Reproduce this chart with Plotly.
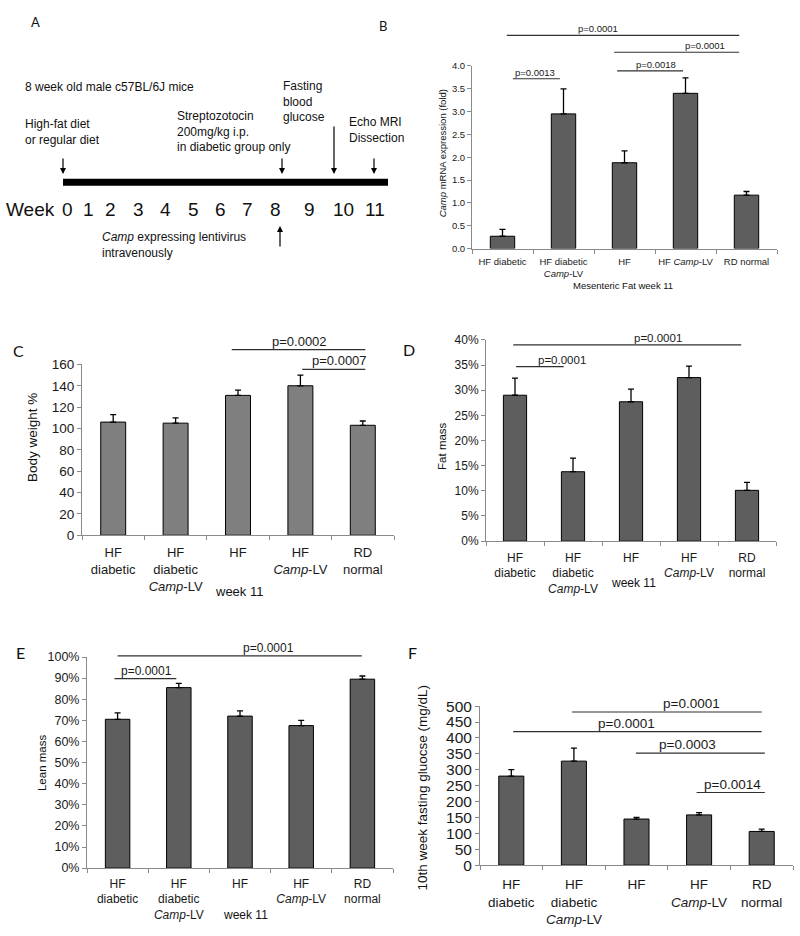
import plotly.graph_objects as go

W, H = 800, 936
FONT = "Liberation Sans, Arial, sans-serif"
LETTER_FONT = "Lato, Open Sans, sans-serif"

# ---------------- data ----------------
groups_inline = ["HF diabetic", "HF diabetic<br><i>Camp</i>-LV", "HF",
                 "HF <i>Camp</i>-LV", "RD normal"]
groups_stacked = ["HF<br>diabetic", "HF<br>diabetic<br><i>Camp</i>-LV", "HF",
                  "HF<br><i>Camp</i>-LV", "RD<br>normal"]

camp_mrna = [0.27, 2.95, 1.88, 3.40, 1.17]
camp_mrna_err = [0.15, 0.55, 0.26, 0.34, 0.08]

body_weight = [106, 105, 131, 140, 103]
body_weight_err = [7, 5, 5, 10, 4]

fat_mass = [0.290, 0.138, 0.277, 0.325, 0.101]
fat_mass_err = [0.034, 0.027, 0.025, 0.023, 0.016]

lean_mass = [0.705, 0.855, 0.720, 0.675, 0.895]
lean_mass_err = [0.030, 0.020, 0.025, 0.025, 0.015]

glucose = [280, 327, 145, 158, 106]
glucose_err = [20, 41, 5, 7, 7]

week_labels = [str(w) for w in range(12)]

# significance comparisons: (from, to, level, label centre, label)
sig_B = [(0.07, 3.88, 4.67, 1.57, "p=0.0001"),
         (1.83, 3.88, 4.30, 3.32, "p=0.0001"),
         (1.88, 2.96, 3.89, 2.52, "p=0.0018"),
         (0.17, 0.94, 3.72, 0.53, "p=0.0013")]
sig_C = [(1.90, 4.04, 173.8, 2.99, "p=0.0002"),
         (3.03, 4.04, 155.4, 3.63, "p=0.0007")]
sig_D = [(-0.03, 3.90, 0.390, 2.47, "p=0.0001"),
         (0.02, 0.84, 0.347, 0.81, "p=0.0001")]
sig_E = [(0.00, 3.99, 1.005, 2.47, "p=0.0001"),
         (-0.05, 0.96, 0.898, 0.47, "p=0.0001")]
sig_F = [(0.97, 4.00, 481.5, 2.88, "p=0.0001"),
         (0.03, 4.00, 419.8, 1.84, "p=0.0001"),
         (1.99, 4.05, 351.9, 2.82, "p=0.0003"),
         (2.96, 4.05, 228.4, 3.54, "p=0.0014")]

# ---------------- layout helpers ----------------
def px(x):
    return x / W


def py(y):
    return 1 - y / H


fig = go.Figure()

AX_COLOR = "#8a8a8a"
panels = [
    dict(n=2, v=camp_mrna, e=camp_mrna_err, ymax=4.0, dtick=0.5, fmt=".1f",
         labels=groups_inline, xd=(472, 777), yd=(58, 244), color="#5e5e5e",
         tf=9.5, xf=9.5, so=4, sig=sig_B, sf=9.5),
    dict(n=3, v=body_weight, e=body_weight_err, ymax=160, dtick=20, fmt="d",
         labels=groups_stacked, xd=(82, 394), yd=(362, 536), color="#7f7f7f",
         tf=13.5, xf=13, so=5, sig=sig_C, sf=13),
    dict(n=4, v=fat_mass, e=fat_mass_err, ymax=0.40, dtick=0.05, fmt=".0%",
         labels=groups_stacked, xd=(486, 776), yd=(337, 542), color="#5e5e5e",
         tf=12, xf=12, so=5, sig=sig_D, sf=11.5),
    dict(n=5, v=lean_mass, e=lean_mass_err, ymax=1.0, dtick=0.1, fmt=".0%",
         labels=groups_stacked, xd=(87, 393), yd=(660, 875), color="#5e5e5e",
         tf=12.5, xf=12, so=4, sig=sig_E, sf=12),
    dict(n=6, v=glucose, e=glucose_err, ymax=500, dtick=50, fmt="d",
         labels=groups_stacked, xd=(480, 793), yd=(710, 872), color="#5e5e5e",
         tf=15.5, xf=13.5, so=7, sig=sig_F, sf=13.5),
]

cats = list(range(5))
for p in panels:
    n = p["n"]
    fig.add_trace(go.Bar(
        x=cats, y=p["v"], width=0.40, xaxis=f"x{n}", yaxis=f"y{n}",
        marker=dict(color=p["color"], line=dict(color="black", width=1)),
        error_y=dict(type="data", symmetric=False, array=p["e"],
                     arrayminus=[0] * 5, color="black", thickness=1.3, width=3),
        showlegend=False, hoverinfo="skip"))
    fig.update_layout(**{
        f"xaxis{n}": dict(
            domain=[px(p["xd"][0]), px(p["xd"][1])], anchor=f"y{n}",
            range=[-0.5, 4.5], tickmode="array", tickvals=cats,
            ticktext=p["labels"], ticks="", showline=True, linecolor=AX_COLOR,
            linewidth=1, showgrid=False, zeroline=False,
            tickfont=dict(size=p["xf"], color="#1a1a1a", family=FONT),
            ticklabelstandoff=p["so"],
            minor=dict(tickmode="array", tickvals=[c - 0.5 for c in range(6)],
                       ticks="outside", ticklen=4, tickcolor=AX_COLOR,
                       showgrid=False)),
        f"yaxis{n}": dict(
            domain=[py(p["yd"][1]), py(p["yd"][0])], anchor=f"x{n}",
            range=[0, p["ymax"]], dtick=p["dtick"], tick0=0,
            tickformat=p["fmt"], ticks="outside", ticklen=4,
            tickcolor=AX_COLOR, showline=True, linecolor=AX_COLOR,
            linewidth=1, showgrid=False, zeroline=False,
            tickfont=dict(size=p["tf"], color="#1a1a1a", family=FONT)),
    })
    for x0, x1, lvl, tx, lab in p["sig"]:
        yy = lvl / p["ymax"]
        fig.add_shape(type="line", xref=f"x{n} domain", yref=f"y{n} domain",
                      x0=(x0 + 0.5) / 5, x1=(x1 + 0.5) / 5, y0=yy, y1=yy,
                      line=dict(color="#303030", width=1.2))
        fig.add_annotation(xref=f"x{n} domain", yref=f"y{n} domain",
                           x=(tx + 0.5) / 5, y=yy, text=lab, showarrow=False,
                           xanchor="center", yanchor="bottom", yshift=-1,
                           font=dict(size=p["sf"], color="#1a1a1a", family=FONT))

# ---------------- free text (titles, letters) ----------------
def text(x, y, s, size, anchor="center", angle=0, family=FONT, valign="middle"):
    fig.add_annotation(xref="paper", yref="paper", x=px(x), y=py(y), text=s,
                       showarrow=False, xanchor=anchor, yanchor=valign,
                       textangle=angle, align="left" if anchor == "left" else "center",
                       font=dict(size=size, color="#111111", family=family))

# axis titles
text(442, 147, "<i>Camp</i> mRNA expression (fold)", 9.5, angle=-90)
text(623, 282, "Mesenteric Fat week 11", 9.5)
text(32, 437, "Body weight %", 13.5, angle=-90)
text(239, 593, "week 11", 13)
text(442, 445, "Fat mass", 11.5, angle=-90)
text(633, 585, "week 11", 12)
text(42, 768, "Lean mass", 11.5, angle=-90)
text(245, 923, "week 11", 12)
text(423, 793, "10th week fasting gluocse (mg/dL)", 13.5, angle=-90)

# panel letters
text(35, 13, "A", 13, family=LETTER_FONT)
text(383, 17, "B", 13, family=LETTER_FONT)
text(18, 348, "C", 16, family=LETTER_FONT)
text(409, 347, "D", 16, family=LETTER_FONT)
text(20, 655, "E", 16, family=LETTER_FONT)
text(412, 655, "F", 16, family=LETTER_FONT)

# ---------------- panel A: timeline ----------------
WEEK_X_PX = [67, 88, 110, 138, 165, 193, 220, 247, 275, 309, 343, 375]
fig.add_shape(type="rect", xref="paper", yref="paper",
              x0=px(63), x1=px(388), y0=py(180), y1=py(173),
              fillcolor="black", line=dict(width=0))
text(30, 204, "Week", 19)
for lab, xx in zip(week_labels, WEEK_X_PX):
    text(xx, 204, lab, 19)

text(23, 79, "8 week old male c57BL/6J mice", 12, anchor="left")
text(23, 125, "High-fat diet<br>or regular diet", 12, anchor="left")
text(175, 125, "Streptozotocin<br>200mg/kg i.p.<br>in diabetic group only", 12, anchor="left")
text(281, 94, "Fasting<br>blood<br>glucose", 12, anchor="left")
text(347, 123, "Echo MRI<br>Dissection", 12, anchor="left")
text(100, 240, "<i>Camp</i> expressing lentivirus<br>intravenously", 12, anchor="left")

def arrow(x, y_head, y_tail):
    fig.add_annotation(xref="paper", yref="paper", x=px(x), y=py(y_head),
                       ax=0, ay=y_tail - y_head, axref="pixel", ayref="pixel",
                       text="", showarrow=True, arrowhead=2, arrowsize=1,
                       arrowwidth=1.2, arrowcolor="black", standoff=0)

arrow(63, 168, 151)
arrow(282, 168, 151)
arrow(334, 168, 119)
arrow(374, 168, 151)
arrow(280, 221, 243)

fig.update_layout(width=W, height=H, margin=dict(l=0, r=0, t=0, b=0),
                  paper_bgcolor="white", plot_bgcolor="white",
                  font=dict(family=FONT), showlegend=False, bargap=0)

fig.write_html("out.html",
               config={"displayModeBar": False, "staticPlot": True},
               post_script="document.body.style.margin='0';"
                           "document.body.style.overflow='hidden';")
